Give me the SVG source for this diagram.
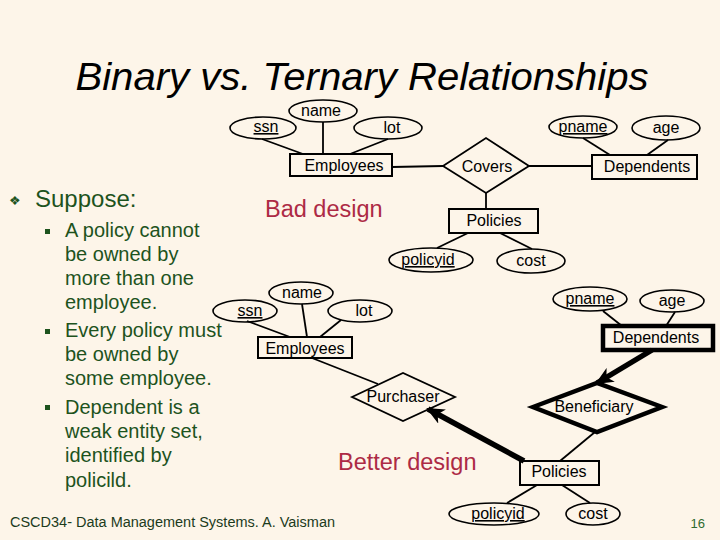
<svg xmlns="http://www.w3.org/2000/svg" width="720" height="540" viewBox="0 0 720 540">
<defs>
<style>
.bg{fill:#fdf5e9}
.ent{fill:none;stroke:#000;stroke-width:2}
.weak{fill:none;stroke:#000;stroke-width:4.5}
.attr{fill:none;stroke:#000;stroke-width:1.6}
.rel{fill:none;stroke:#000;stroke-width:1.8}
.rel2{fill:none;stroke:#000;stroke-width:4.5;stroke-linejoin:miter}
.lbl{font-family:"Liberation Sans",Arial,sans-serif;font-size:16px;fill:#000;text-anchor:middle}
.key{text-decoration:underline}
.ln{stroke:#000;stroke-width:1.8;fill:none}
.thick{stroke:#000;stroke-width:5.5;fill:none;marker-end:url(#ah)}
.green{font-family:"Liberation Sans",Arial,sans-serif;fill:#1d531d}
.design{font-family:"Liberation Sans",Arial,sans-serif;font-size:23.5px;fill:#ad2a45}
</style>
<marker id="ah" markerUnits="userSpaceOnUse" markerWidth="18" markerHeight="16" refX="16" refY="8" orient="auto">
<path d="M0,0 L18,8 L0,16 L5,8 z" fill="#000"/>
</marker>
</defs>
<rect class="bg" x="0" y="0" width="720" height="540"/>

<text x="362" y="90" font-family="'Liberation Sans',Arial,sans-serif" font-size="38" font-style="italic" text-anchor="middle" textLength="573" lengthAdjust="spacingAndGlyphs" fill="#000">Binary vs. Ternary Relationships</text>

<g id="bullets">
<text class="green" x="9" y="205" font-size="13">❖</text>
<text class="green" x="35" y="207" font-size="24">Suppose:</text>
<rect x="45" y="229" width="5" height="5" fill="#1d531d"/>
<rect x="45" y="329" width="5" height="5" fill="#1d531d"/>
<rect x="45" y="405" width="5" height="5" fill="#1d531d"/>
<g class="green" font-size="20">
<text x="65" y="237">A policy cannot</text>
<text x="65" y="261">be owned by</text>
<text x="65" y="285">more than one</text>
<text x="65" y="309">employee.</text>
<text x="65" y="337">Every policy must</text>
<text x="65" y="361">be owned by</text>
<text x="65" y="385">some employee.</text>
<text x="65" y="414">Dependent is a</text>
<text x="65" y="438">weak entity set,</text>
<text x="65" y="462">identified by</text>
<text x="65" y="487">policild.</text>
</g>
</g>

<text class="design" x="265" y="217">Bad design</text>
<text class="design" x="338" y="470">Better design</text>

<g id="connectors">
<line class="ln" x1="262" y1="139" x2="303" y2="154"/>
<line class="ln" x1="323" y1="122" x2="323" y2="154"/>
<line class="ln" x1="388" y1="139" x2="350" y2="154"/>
<line class="ln" x1="392" y1="167" x2="443" y2="166"/>
<line class="ln" x1="529" y1="166" x2="592" y2="166"/>
<line class="ln" x1="583" y1="138" x2="610" y2="155"/>
<line class="ln" x1="668" y1="140" x2="647" y2="155"/>
<line class="ln" x1="486" y1="193" x2="486" y2="209"/>
<line class="ln" x1="468" y1="233" x2="437" y2="248"/>
<line class="ln" x1="500" y1="233" x2="532" y2="249"/>
<line class="ln" x1="247" y1="321" x2="290" y2="337"/>
<line class="ln" x1="302" y1="304" x2="307" y2="337"/>
<line class="ln" x1="341" y1="320" x2="320" y2="337"/>
<line class="ln" x1="312" y1="358" x2="378" y2="384"/>
<line class="ln" x1="603" y1="311" x2="622" y2="326"/>
<line class="ln" x1="675" y1="312" x2="666" y2="326"/>
<line class="thick" x1="652" y1="350" x2="597" y2="383"/>
<line class="thick" x1="524" y1="461" x2="428" y2="409"/>
<line class="ln" x1="595" y1="432" x2="560" y2="461"/>
<line class="ln" x1="537" y1="485" x2="507" y2="503"/>
<line class="ln" x1="562" y1="485" x2="590" y2="503"/>
</g>

<g id="t-ssn"><ellipse class="attr" cx="263" cy="128" rx="33" ry="11"/><text class="lbl key" x="266" y="132">ssn</text></g>
<g id="t-name"><ellipse class="attr" cx="323" cy="111" rx="34" ry="11"/><text class="lbl" x="321" y="116">name</text></g>
<g id="t-lot"><ellipse class="attr" cx="388" cy="128" rx="34" ry="11"/><text class="lbl" x="392" y="133">lot</text></g>
<g id="t-employees"><rect class="ent" x="290" y="154" width="102" height="22"/><text class="lbl" x="344" y="171">Employees</text></g>
<g id="t-covers"><polygon class="rel" points="443,166 486,138 529,166 486,193"/><text class="lbl" x="487" y="172">Covers</text></g>
<g id="t-dependents"><rect class="ent" x="592" y="155" width="105" height="24"/><text class="lbl" x="647" y="172">Dependents</text></g>
<g id="t-pname"><ellipse class="attr" cx="583" cy="127" rx="34" ry="11"/><text class="lbl key" x="583" y="132">pname</text></g>
<g id="t-age"><ellipse class="attr" cx="666" cy="128" rx="34" ry="12"/><text class="lbl" x="666" y="133">age</text></g>
<g id="t-policies"><rect class="ent" x="449" y="209" width="89" height="24"/><text class="lbl" x="494" y="226">Policies</text></g>
<g id="t-policyid"><ellipse class="attr" cx="431" cy="260" rx="42" ry="12"/><text class="lbl key" x="428" y="265">policyid</text></g>
<g id="t-cost"><ellipse class="attr" cx="531" cy="261" rx="34" ry="12"/><text class="lbl" x="531" y="266">cost</text></g>

<g id="b-ssn"><ellipse class="attr" cx="245" cy="311" rx="32" ry="11"/><text class="lbl key" x="250" y="316">ssn</text></g>
<g id="b-name"><ellipse class="attr" cx="301" cy="293" rx="32" ry="11"/><text class="lbl" x="302" y="298">name</text></g>
<g id="b-lot"><ellipse class="attr" cx="360" cy="311" rx="32" ry="11"/><text class="lbl" x="364" y="316">lot</text></g>
<g id="b-employees"><rect class="ent" x="258" y="337" width="94" height="21"/><text class="lbl" x="305" y="354">Employees</text></g>
<g id="b-purchaser"><polygon class="rel" points="352,397 403,373 455,397 403,421"/><text class="lbl" x="403" y="402">Purchaser</text></g>
<g id="b-beneficiary"><polygon class="rel2" points="533,407 597,383 662,407 597,432"/><text class="lbl" x="594" y="412">Beneficiary</text></g>
<g id="b-dependents"><rect class="weak" x="603" y="326" width="110" height="24"/><text class="lbl" x="656" y="343">Dependents</text></g>
<g id="b-pname"><ellipse class="attr" cx="590" cy="299" rx="37" ry="12"/><text class="lbl key" x="590" y="304">pname</text></g>
<g id="b-age"><ellipse class="attr" cx="672" cy="301" rx="32" ry="11"/><text class="lbl" x="672" y="306">age</text></g>
<g id="b-policies"><rect class="ent" x="520" y="461" width="79" height="24"/><text class="lbl" x="559" y="477">Policies</text></g>
<g id="b-policyid"><ellipse class="attr" cx="494" cy="514" rx="45" ry="11"/><text class="lbl key" x="498" y="519">policyid</text></g>
<g id="b-cost"><ellipse class="attr" cx="593" cy="514" rx="27" ry="11"/><text class="lbl" x="593" y="519">cost</text></g>

<text x="10" y="527" font-family="'Liberation Sans',Arial,sans-serif" font-size="14" fill="#1c3b1c" textLength="325" lengthAdjust="spacingAndGlyphs">CSCD34- Data Management Systems.  A. Vaisman</text>
<text x="705" y="528" font-family="'Liberation Sans',Arial,sans-serif" font-size="13" fill="#2f6b2f" text-anchor="end">16</text>
</svg>
